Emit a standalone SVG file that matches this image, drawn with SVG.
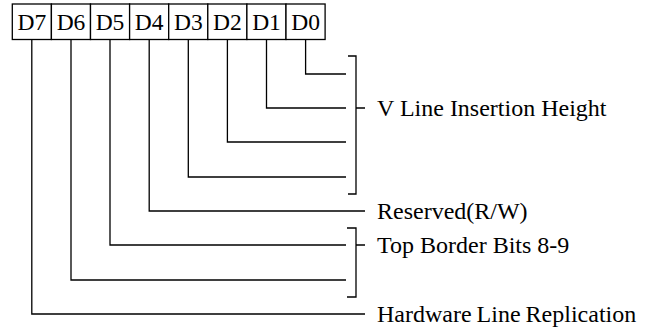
<svg xmlns="http://www.w3.org/2000/svg" width="652" height="327" viewBox="0 0 652 327">
<style>
.box{fill:#fff;stroke:#000;stroke-width:1.3}
.bt{font-family:"Liberation Serif","Times New Roman",serif;font-size:23.5px;fill:#000;text-anchor:middle}
.lb{font-family:"Liberation Serif","Times New Roman",serif;font-size:24px;fill:#000}
.ln{fill:none;stroke:#000;stroke-width:1.3}
</style>
<rect width="652" height="327" fill="#fff"/>
<g id="register">
<g id="bit-d7"><rect class="box" x="12.3" y="4" width="39.1" height="35.5"/><text class="bt" x="31.8" y="30">D7</text></g>
<g id="bit-d6"><rect class="box" x="51.4" y="4" width="39.1" height="35.5"/><text class="bt" x="71" y="30">D6</text></g>
<g id="bit-d5"><rect class="box" x="90.5" y="4" width="39.1" height="35.5"/><text class="bt" x="110" y="30">D5</text></g>
<g id="bit-d4"><rect class="box" x="129.6" y="4" width="39.1" height="35.5"/><text class="bt" x="149.2" y="30">D4</text></g>
<g id="bit-d3"><rect class="box" x="168.7" y="4" width="39.1" height="35.5"/><text class="bt" x="188.3" y="30">D3</text></g>
<g id="bit-d2"><rect class="box" x="207.8" y="4" width="39.1" height="35.5"/><text class="bt" x="227.4" y="30">D2</text></g>
<g id="bit-d1"><rect class="box" x="246.9" y="4" width="39.1" height="35.5"/><text class="bt" x="266.5" y="30">D1</text></g>
<g id="bit-d0"><rect class="box" x="286" y="4" width="39.1" height="35.5"/><text class="bt" x="305.6" y="30">D0</text></g>
</g>
<g id="connectors">
<path class="ln" d="M305.6 39.5V74H346"/>
<path class="ln" d="M266.5 39.5V108H346"/>
<path class="ln" d="M227.4 39.5V142H346"/>
<path class="ln" d="M188.3 39.5V177H346"/>
<path class="ln" d="M149.2 39.5V211H365"/>
<path class="ln" d="M110 39.5V245H346"/>
<path class="ln" d="M71 39.5V280H346"/>
<path class="ln" d="M31.8 39.5V314H365"/>
<path class="ln" d="M348 56H356V194H348M356 108H365"/>
<path class="ln" d="M347 228H356V297H347M356 245H365"/>
</g>
<g id="label-vline"><text class="lb" x="377" y="116">V Line Insertion Height</text></g>
<g id="label-reserved"><text class="lb" x="377" y="219">Reserved(R/W)</text></g>
<g id="label-topborder"><text class="lb" x="377" y="253">Top Border Bits 8-9</text></g>
<g id="label-hardware"><text class="lb" x="377" y="322" word-spacing="-1">Hardware Line Replication</text></g>
</svg>
